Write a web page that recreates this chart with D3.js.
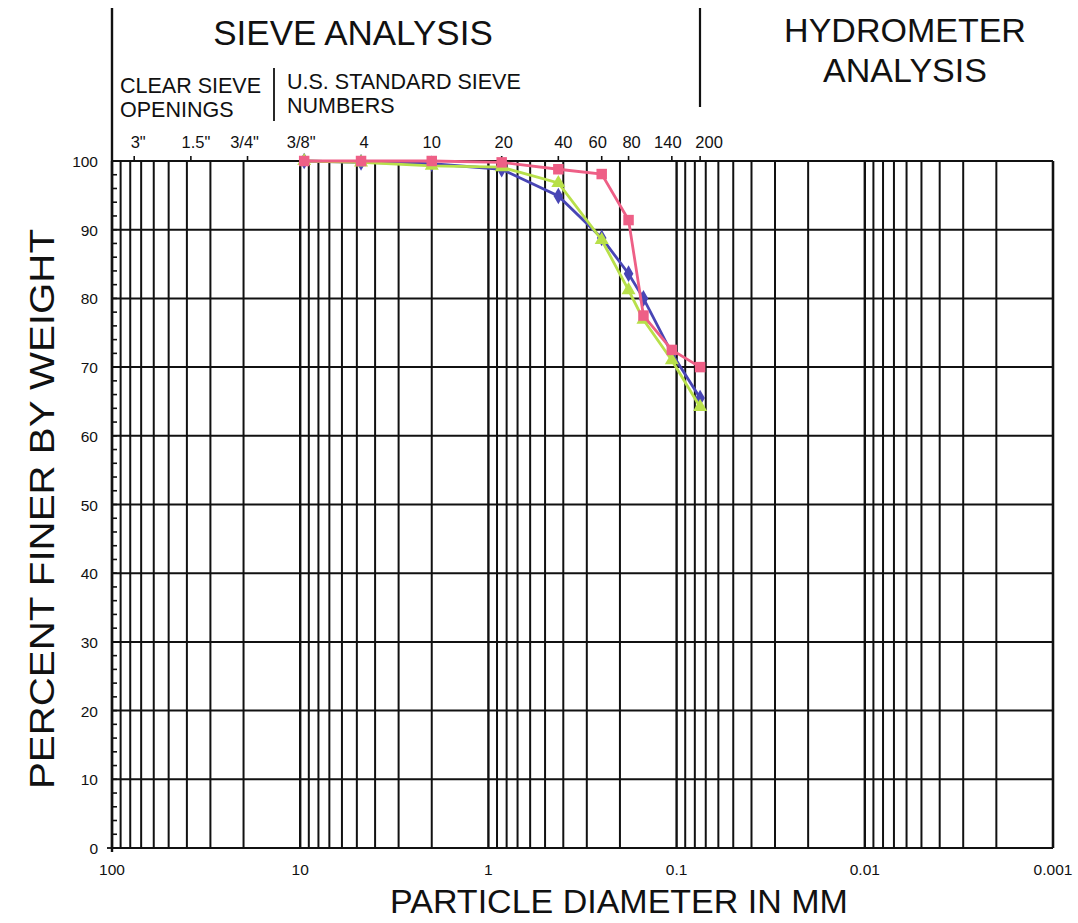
<!DOCTYPE html>
<html>
<head>
<meta charset="utf-8">
<script src="https://cdn.jsdelivr.net/npm/d3@7"></script>
<style>
  body { margin: 0; background: #fff; }
  svg text { font-family: "Liberation Sans", Arial, sans-serif; fill: #111; }
</style>
</head>
<body>
<div id="chart"></div>
<script>
// sieve sizes (mm) and the labels printed above the chart
var sieveLabels = ['3"', '1.5"', '3/4"', '3/8"', "4", "10", "20", "40", "60", "80", "140", "200"];
var sieveSizes  = [76.2, 38.1, 19.05, 9.525, 4.75, 2.0, 0.85, 0.425, 0.25, 0.18, 0.106, 0.075];

// sieves used for the test samples
var testSizes = [9.525, 4.75, 2.0, 0.85, 0.425, 0.25, 0.18, 0.15, 0.106, 0.075];

// percent finer for each sample
var pinkValues  = [100, 100, 100, 99.8, 98.8, 98.1, 91.4, 77.5, 72.5, 70.0];
var blueValues  = [100, 99.8, 99.6, 98.8, 94.9, 88.8, 83.6, 80.0, 72.0, 65.5];
var greenValues = [100, 99.8, 99.3, 99.1, 96.8, 88.5, 81.2, 76.9, 71.0, 64.2];

var decades = [100, 10, 1, 0.1, 0.01];
var xTickValues = [100, 10, 1, 0.1, 0.01, 0.001];
var yTickValues = [0, 10, 20, 30, 40, 50, 60, 70, 80, 90, 100];

var width = 1078, height = 923;
var plotLeft = 112, plotRight = 1053, plotTop = 161, plotBottom = 848;

// the sieve labels were hand placed in the original, nudge them a bit
var labelShift = [4, 5, -3, -3, 3, 0, 2, 5, -4, 3, -4, 9];

var svg = d3.select("#chart").append("svg")
  .attr("width", width)
  .attr("height", height);

var x = d3.scaleLog().domain([100, 0.001]).range([plotLeft, plotRight]);
var y = d3.scaleLinear().domain([0, 100]).range([plotBottom, plotTop]);

// vertical log grid: 1..9 of every decade
var gridX = [];
decades.forEach(function(d) {
  for (var m = 1; m < 10; m++) gridX.push(d / 10 * m);
});
gridX.push(100);

var grid = svg.append("g").attr("stroke", "#111");

grid.selectAll(".vline")
  .data(gridX)
  .enter().append("line")
  .attr("x1", function(d) { return x(d); })
  .attr("x2", function(d) { return x(d); })
  .attr("y1", plotTop)
  .attr("y2", plotBottom)
  .attr("stroke-width", function(d) { return Math.abs(Math.log10(d) % 1) < 1e-6 ? 2.4 : 2; });

grid.selectAll(".hline")
  .data(yTickValues)
  .enter().append("line")
  .attr("x1", plotLeft)
  .attr("x2", plotRight)
  .attr("y1", function(d) { return y(d); })
  .attr("y2", function(d) { return y(d); })
  .attr("stroke-width", 2);

// right border
grid.append("line")
  .attr("x1", plotRight).attr("x2", plotRight)
  .attr("y1", plotTop).attr("y2", plotBottom)
  .attr("stroke-width", 2.2);

// left axis with small ticks every 2 percent
var minor = d3.range(0, 101, 2);
grid.selectAll(".minor")
  .data(minor)
  .enter().append("line")
  .attr("x1", plotLeft)
  .attr("x2", plotLeft + 5)
  .attr("y1", function(d) { return y(d); })
  .attr("y2", function(d) { return y(d); })
  .attr("stroke-width", 1.6);

grid.append("line")
  .attr("x1", plotLeft).attr("x2", plotLeft)
  .attr("y1", 8).attr("y2", plotBottom + 4)
  .attr("stroke-width", 2.4);

grid.append("line")
  .attr("x1", plotLeft - 5).attr("x2", plotLeft)
  .attr("y1", plotBottom).attr("y2", plotBottom)
  .attr("stroke-width", 1.8);

// y tick labels
svg.selectAll(".ylab")
  .data(yTickValues)
  .enter().append("text")
  .attr("x", plotLeft - 14)
  .attr("y", function(d) { return y(d) + 6; })
  .attr("text-anchor", "end")
  .style("font-size", "15.5px")
  .text(function(d) { return d; });

// x tick labels
svg.selectAll(".xlab")
  .data(xTickValues)
  .enter().append("text")
  .attr("x", function(d) { return x(d); })
  .attr("y", plotBottom + 27)
  .attr("text-anchor", "middle")
  .style("font-size", "15.5px")
  .text(function(d) { return d; });

// sieve ticks and labels above the top edge
grid.selectAll(".stick")
  .data(sieveSizes)
  .enter().append("line")
  .attr("x1", function(d) { return x(d); })
  .attr("x2", function(d) { return x(d); })
  .attr("y1", plotTop - 5)
  .attr("y2", plotTop)
  .attr("stroke-width", 1.6);

svg.selectAll(".slab")
  .data(sieveSizes)
  .enter().append("text")
  .attr("x", function(d, i) { return x(d) + labelShift[i]; })
  .attr("y", plotTop - 13)
  .attr("text-anchor", "middle")
  .style("font-size", "16.5px")
  .text(function(d, i) { return sieveLabels[i]; });

// header
grid.append("line").attr("x1", 700).attr("x2", 700).attr("y1", 8).attr("y2", 107).attr("stroke-width", 2.2);
grid.append("line").attr("x1", 274).attr("x2", 274).attr("y1", 68).attr("y2", 121).attr("stroke-width", 1.8);

svg.append("text").attr("x", 353).attr("y", 45).attr("text-anchor", "middle")
  .style("font-size", "35px").text("SIEVE ANALYSIS");
svg.append("text").attr("x", 905).attr("y", 42).attr("text-anchor", "middle")
  .style("font-size", "34px").text("HYDROMETER");
svg.append("text").attr("x", 905).attr("y", 82).attr("text-anchor", "middle")
  .style("font-size", "34px").text("ANALYSIS");
svg.append("text").attr("x", 120).attr("y", 93).style("font-size", "21.5px").text("CLEAR SIEVE");
svg.append("text").attr("x", 120).attr("y", 117).style("font-size", "21.5px").text("OPENINGS");
svg.append("text").attr("x", 287).attr("y", 89).style("font-size", "21.5px").text("U.S. STANDARD SIEVE");
svg.append("text").attr("x", 287).attr("y", 113).style("font-size", "21.5px").text("NUMBERS");

// axis titles
svg.append("text").attr("x", 619).attr("y", 913).attr("text-anchor", "middle")
  .style("font-size", "34px").text("PARTICLE DIAMETER IN MM");
svg.append("text")
  .attr("transform", "translate(54,509) rotate(-90)")
  .attr("text-anchor", "middle")
  .attr("textLength", 560)
  .attr("lengthAdjust", "spacingAndGlyphs")
  .style("font-size", "35px").text("PERCENT FINER BY WEIGHT");

// data series
var series = [
  {name: "blue",  values: blueValues,  color: "#4845b5", symbol: d3.symbolDiamond,  size: 80},
  {name: "green", values: greenValues, color: "#b8e04a", symbol: d3.symbolTriangle, size: 85},
  {name: "pink",  values: pinkValues,  color: "#ee5f86", symbol: d3.symbolSquare,   size: 110}
];

var line = d3.line()
  .x(function(d) { return x(d[0]); })
  .y(function(d) { return y(d[1]); });

var groups = svg.selectAll(".series")
  .data(series)
  .enter().append("g")
  .attr("class", "series");

groups.append("path")
  .attr("fill", "none")
  .attr("stroke", function(d) { return d.color; })
  .attr("stroke-width", 2.8)
  .attr("d", function(d) { return line(testSizes.map(function(s, i) { return [s, d.values[i]]; })); });

groups.each(function(d) {
  d3.select(this).selectAll("path.pt")
    .data(testSizes.map(function(s, i) { return [s, d.values[i]]; }))
    .enter().append("path")
    .attr("class", "pt")
    .attr("fill", d.color)
    .attr("transform", function(p) { return "translate(" + x(p[0]) + "," + y(p[1]) + ")"; })
    .attr("d", d3.symbol().type(d.symbol).size(d.size));
});
</script>
</body>
</html>
